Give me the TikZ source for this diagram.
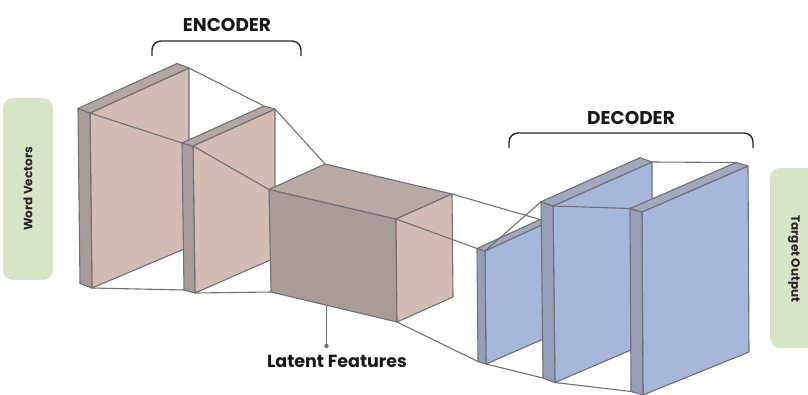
\documentclass[tikz,border=0pt]{standalone}
\usepackage{fontspec}
\setmainfont{Poppins}
\usetikzlibrary{calc}
\definecolor{edgegray}{RGB}{112,112,118}
\definecolor{encface}{RGB}{211,188,180}
\definecolor{encside}{RGB}{170,155,152}
\definecolor{enctop}{RGB}{182,166,162}
\definecolor{latfront}{RGB}{168,155,152}
\definecolor{lattop}{RGB}{184,169,165}
\definecolor{decface}{RGB}{166,183,219}
\definecolor{decside}{RGB}{150,159,185}
\definecolor{dectop}{RGB}{161,169,192}
\definecolor{tabgreen}{RGB}{213,229,197}

% name, tl, tr, br, bl, thickness, face, side, top
\newcommand{\panel}[9]{%
  \coordinate (#1-tl) at #2;
  \coordinate (#1-tr) at #3;
  \coordinate (#1-br) at #4;
  \coordinate (#1-bl) at #5;
  \coordinate (#1-stl) at ($(#1-tl)+#6$);
  \coordinate (#1-str) at ($(#1-tr)+#6$);
  \coordinate (#1-sbl) at ($(#1-bl)+#6$);
  \filldraw[edge, fill=#7] (#1-tl) -- (#1-tr) -- (#1-br) -- (#1-bl) -- cycle;
  \filldraw[edge, fill=#8] (#1-stl) -- (#1-tl) -- (#1-bl) -- (#1-sbl) -- cycle;
  \filldraw[edge, fill=#9] (#1-stl) -- (#1-str) -- (#1-tr) -- (#1-tl) -- cycle;
}

\begin{document}
\begin{tikzpicture}[x=1pt, y=-1pt,
    edge/.style={draw=edgegray, line width=1.1pt, line join=round},
    link/.style={draw=edgegray, line width=1.1pt},
    brace/.style={draw=black!85, line width=1.4pt, rounded corners=9pt},
    tab/.style={fill=tabgreen, rounded corners=10pt},
    title/.style={font=\fontsize{18.5}{18.5}\selectfont\bfseries, text=black!90},
    tabtext/.style={font=\fontsize{12}{12}\selectfont\bfseries, text=black!85}
  ]
  \useasboundingbox (0,0) rectangle (808,394);

  \fill[tab] (3,98) rectangle (53,280);
  \node[tabtext, rotate=90] (words) at (28,189) {Word Vectors};
  \fill[tab] (770,168) rectangle (822,348);
  \node[tabtext, rotate=-90] (target) at (794,259) {Target\ Output};

  \node[title] (enc) at (227,25) {ENCODER};
  \draw[brace] (152,56) |- (enc.south |- 0,41) -| (301,56);
  \node[title] (dec) at (631,118) {DECODER};
  \draw[brace] (509,148) |- (dec.south |- 0,133) -| (753,148);

  \panel{e1}{(90,113)}{(189,68)}{(189,247)}{(92,288)}{(-12,-4.5)}{encface}{encside}{enctop}
  \coordinate (e2-stl) at (182,143);
  \coordinate (e2-str) at (264,106);
  \coordinate (e2-sbl) at (184,290);
  \draw[link] (e1-tl) -- (e2-stl);
  \draw[link] (e1-tr) -- (e2-str);
  \draw[link] (e1-bl) -- (e2-sbl);
  \panel{e2}{(193,146)}{(275,109)}{(275,258)}{(195,293)}{(-11,-3)}{encface}{encside}{enctop}

  \coordinate (lat-tl) at (269,189.5);
  \coordinate (lat-tr) at (396,219);
  \coordinate (lat-br) at (397,322);
  \coordinate (lat-bl) at (271,292);
  \coordinate (lat-btl) at (325,164);
  \coordinate (lat-btr) at (452,194);
  \coordinate (lat-bbr) at (453,297);
  \draw[link] (e2-tr) -- (lat-btl);
  \draw[link] (e2-tl) -- (lat-tl);
  \draw[link] (e2-bl) -- (lat-bl);
  \filldraw[edge, fill=latfront] (lat-tl) -- (lat-tr) -- (lat-br) -- (lat-bl) -- cycle;
  \filldraw[edge, fill=lattop] (lat-tl) -- (lat-btl) -- (lat-btr) -- (lat-tr) -- cycle;
  \filldraw[edge, fill=encface] (lat-tr) -- (lat-btr) -- (lat-bbr) -- (lat-br) -- cycle;

  \coordinate (pin) at ($(lat-bl)!0.44!(lat-br)$);
  \node[font=\fontsize{17.5}{17.5}\selectfont\bfseries, text=black!90] (latent) at (337,361) {Latent Features};
  \draw[link] (pin) -- (pin |- 0,346) coordinate (dot);
  \fill[edgegray] (dot) circle (2.2pt);

  \coordinate (d1-stl) at (477,248.5);
  \coordinate (d1-str) at (540,219.5);
  \coordinate (d1-sbl) at (478,361.5);
  \draw[link] (lat-btr) -- (d1-str);
  \draw[link] (lat-tr) -- (d1-stl);
  \draw[link] (lat-br) -- (d1-sbl);
  \panel{d1}{(485,251)}{(548,222)}{(548,337)}{(486,364)}{(-8,-2.5)}{decface}{decside}{dectop}

  \coordinate (d2-stl) at (541,201.7);
  \coordinate (d2-sbl) at (543,378);
  \draw[link] (d1-tl) -- (d2-stl);
  \draw[link] (d1-bl) -- (d2-sbl);
  \panel{d2}{(553,206)}{(652,162)}{(652,341)}{(555,382.5)}{(-12,-4.3)}{decface}{decside}{dectop}

  \coordinate (d3-stl) at (630,208.5);
  \coordinate (d3-str) at (736,162.5);
  \coordinate (d3-sbl) at (631,391.5);
  \draw[link] (d2-tr) -- (d3-str);
  \draw[link] (d2-tl) -- (d3-stl);
  \draw[link] (d2-bl) -- (d3-sbl);
  \panel{d3}{(642,212)}{(748,166)}{(749,352)}{(643,395)}{(-12,-3.5)}{decface}{decside}{dectop}
\end{tikzpicture}
\end{document}
